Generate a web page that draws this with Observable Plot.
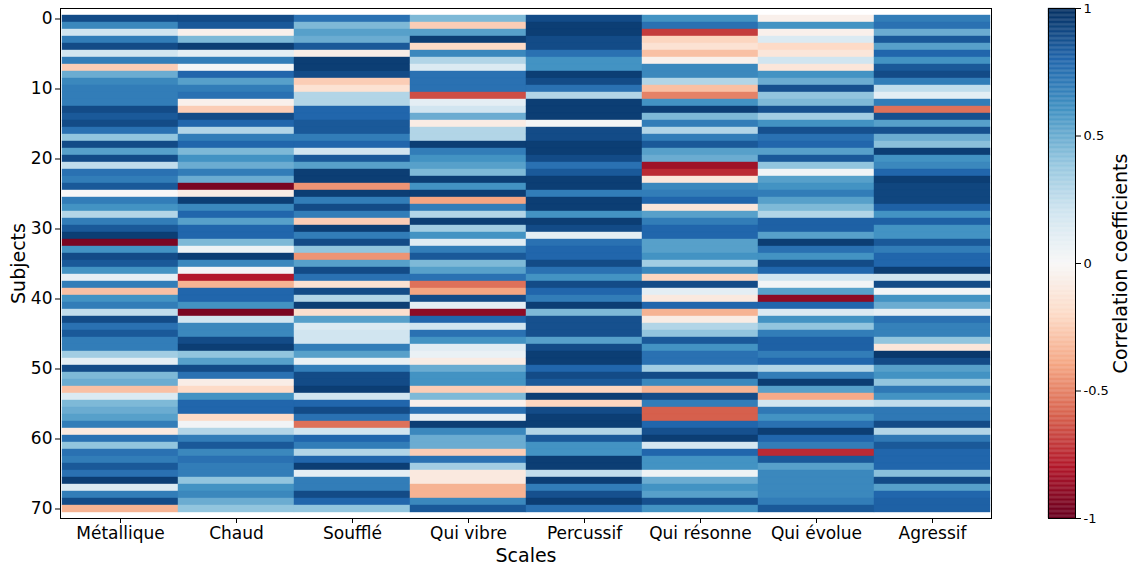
<!DOCTYPE html>
<html><head><meta charset="utf-8">
<script src="https://cdn.jsdelivr.net/npm/d3@7"></script>
<script src="https://cdn.jsdelivr.net/npm/@observablehq/plot@0.6"></script>
<style>
body{margin:0;background:#fff;}
#wrap{position:relative;width:1132px;height:566px;}
#cb{position:absolute;left:1000px;top:0;}
</style></head><body><div id="wrap"><div id="main"></div><div id="cb"></div></div>
<script>
const scales = ["Métallique","Chaud","Soufflé","Qui vibre","Percussif","Qui résonne","Qui évolue","Agressif"];
const subjects = d3.range(71);
const yTicks = [0,10,20,30,40,50,60,70];
const cbTicks = [-1,-0.5,0,0.5,1];

const metallique = [.9,.65,.2,.7,.9,.2,.7,-.25,.5,.65,
 .7,.7,.7,.9,.85,.9,.75,.4,.9,.55,
 .9,.25,.75,.7,.85,0,.7,.6,.3,.7,
 .85,.95,-.95,.6,.9,.85,.6,.1,.7,-.3,
 .6,.7,.25,.9,.75,.85,.7,.7,.35,.1,
 .9,.45,.5,-.3,.15,.45,.5,.55,.7,-.1,
 .75,.4,.75,.7,.85,.75,.95,.15,.7,.9,-.35];
const chaud = [.9,.85,-.05,.45,.95,.1,.7,.02,.8,.55,
 .7,.75,-.05,-.25,.9,.8,.3,.7,.8,.45,
 .6,.5,.7,.5,-.95,-.08,.95,.65,.8,.55,
 .8,.8,.45,.05,.95,.65,.02,-.8,-.35,.8,
 .8,.6,-.95,.2,.65,.65,.9,.95,.4,.55,
 .9,.75,-.07,-.2,.6,.8,.8,-.2,.03,.3,
 .7,.85,.65,.75,.7,.7,.4,.6,.65,.5,.4];
const souffle = [.75,.45,.55,.5,.85,-.07,.95,.95,.9,-.25,
 -.15,.3,.3,.8,.8,.85,.85,.7,.8,.2,
 .85,.55,.95,.95,-.45,.95,.7,.9,.7,-.25,
 .95,.7,.9,.4,-.45,.55,.9,.75,-.15,.9,
 .3,.95,-.17,.55,.15,.2,.2,.7,.55,.08,
 .7,.9,.9,.95,.2,.8,.9,.75,-.55,.2,
 .8,.7,.3,.8,.95,.1,.7,.7,.9,.8,.4];
const quiVibre = [.45,-.25,.55,.95,-.2,.65,.3,.15,.75,.75,
 .75,-.65,.1,.2,.5,-.08,.3,.3,.95,.7,
 .6,.55,.45,.95,.6,.95,-.4,.7,.3,.95,
 .35,.6,.12,.7,.85,.45,.55,.75,-.55,-.4,
 .9,.1,-.9,.8,.2,.75,.6,.12,.07,-.08,
 .5,.6,.6,-.25,.45,-.05,.75,.08,.95,.65,
 .5,.5,-.25,.75,.35,-.1,-.1,-.35,-.35,.65,.85];
const percussif = [.9,.95,.95,.9,.9,.75,.6,.6,.95,.9,
 .75,.3,.95,.95,.95,.02,.9,.9,.95,.95,
 .9,.75,.85,.95,.95,.7,.95,.95,.6,.95,
 .9,.1,.75,.8,.8,.9,.75,.6,.9,.8,
 .7,.95,.45,.88,.88,.88,.55,.9,.95,.95,
 .8,.9,.85,-.22,.95,-.22,.9,.95,.95,.3,
 .85,.6,.6,.95,.95,.25,.95,.7,.88,.95,.75];
const quiResonne = [.6,.75,-.7,-.22,-.15,-.3,-.05,.65,.65,.3,
 -.3,-.5,.6,.95,.45,.7,.3,.7,.85,.55,
 .5,-.85,-.75,-.12,.65,.7,.8,-.12,.55,.7,
 .8,.8,.55,.55,.6,.35,.65,-.22,.9,.1,
 -.1,.8,-.35,-.08,.3,.4,.85,.6,.75,.75,
 .35,.9,.65,-.35,.9,.7,-.6,-.6,.8,.88,
 .95,.18,.8,.6,.6,.05,.5,.6,.55,.88,.6];
const quiEvolue = [-.05,.6,-.05,.15,-.2,-.12,.2,-.12,.6,.5,
 .88,.4,.45,.88,.35,.6,.88,.75,.8,.55,
 .85,.4,.03,.55,.6,.7,.55,.45,.3,.82,
 .82,.55,.95,.75,.6,.9,.8,.2,.03,.55,
 -.9,.8,.15,.6,.4,.7,.82,.82,.7,.8,
 .3,.7,.95,.55,-.38,.2,.72,.6,.75,.95,
 .8,.7,-.75,.85,.55,.65,.65,.65,.65,.7,.85];
const agressif = [.7,.75,.5,.85,.55,.8,.6,.85,.9,.7,
 .25,.1,.7,-.55,.88,.55,.88,.5,.42,.95,
 .6,.65,.8,.95,.92,.92,.92,.82,.6,.82,
 .6,.6,.85,.7,.8,.8,.95,.2,.9,.03,
 .6,.5,.1,.75,.68,.68,.4,-.12,.97,.9,
 .55,.6,.4,.72,.6,.25,.72,.72,.9,.3,
 .72,.85,.8,.8,.8,.42,.9,.55,.8,.82,.82];

const columns = [metallique, chaud, souffle, quiVibre, percussif, quiResonne, quiEvolue, agressif];
const data = scales.flatMap((s, i) => columns[i].map((v, j) => ({scale: s, subject: subjects[j], value: v})));

// matplotlib "RdBu" (ColorBrewer 11 stops, linear segments)
const rdbu = ["#67001f","#b2182b","#d6604d","#f4a582","#fddbc7","#f7f7f7","#d1e5f0","#92c5de","#4393c3","#2166ac","#053061"];
const colorOpts = {type: "linear", domain: rdbu.map((_, i) => -1 + i * 0.2), range: rdbu, interpolate: "rgb", clamp: true};
const font = "DejaVu Sans, sans-serif";

const main = Plot.plot({
  width: 1132, height: 566,
  marginLeft: 60, marginRight: 141, marginTop: 8, marginBottom: 48,
  style: {fontFamily: font, fontSize: "17px", color: "#000", background: "#fff"},
  x: {domain: scales, padding: 0},
  y: {domain: subjects, padding: 0},
  color: colorOpts,
  marks: [
    Plot.cell(data, {x: "scale", y: "subject", fill: "value", stroke: "value", strokeWidth: 0.4, inset: 0}),
    Plot.frame({stroke: "#000", strokeWidth: 1}),
    Plot.axisX({tickSize: 5, tickPadding: 3, fontSize: 17, label: null}),
    Plot.axisY({ticks: yTicks, tickSize: 5, tickPadding: 3, fontSize: 17, label: null}),
    Plot.text(["Scales"], {text: d => d, frameAnchor: "bottom", dy: 43, fontSize: 19}),
    Plot.text(["Subjects"], {text: d => d, frameAnchor: "left", dx: -42, rotate: -90, textAnchor: "middle", fontSize: 19})
  ]
});
document.getElementById("main").appendChild(main);

const step = 0.005;
const cbSteps = d3.range(-1, 1 - step / 2, step);
const cb = Plot.plot({
  width: 132, height: 566,
  marginLeft: 48, marginRight: 57, marginTop: 8, marginBottom: 48,
  style: {fontFamily: font, fontSize: "13px", color: "#000", background: "transparent"},
  y: {domain: [-1, 1]},
  color: colorOpts,
  marks: [
    Plot.rect(cbSteps, {y1: d => d, y2: d => d + step, fill: d => d + step / 2, stroke: d => d + step / 2, strokeWidth: 0.3}),
    Plot.frame({stroke: "#000", strokeWidth: 1}),
    Plot.axisY({anchor: "right", ticks: cbTicks, tickFormat: d => String(d), tickSize: 5, tickPadding: 3, fontSize: 13, label: null}),
    Plot.text(["Correlation coefficients"], {text: d => d, frameAnchor: "right", dx: 45, rotate: -90, textAnchor: "middle", fontSize: 19})
  ]
});
document.getElementById("cb").appendChild(cb);
</script></body></html>
